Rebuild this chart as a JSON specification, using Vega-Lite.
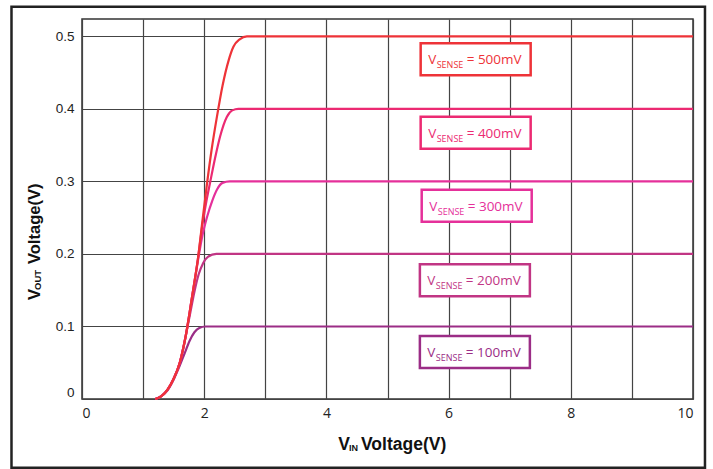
{
  "$schema": "https://vega.github.io/schema/vega-lite/v6.json",
  "width": 611,
  "height": 380,
  "autosize": {"type": "none"},
  "padding": {"left": 82, "top": 19, "right": 20, "bottom": 70},
  "background": "white",
  "config": {
    "view": {"stroke": "#333", "strokeWidth": 1.5},
    "axis": {"gridColor": "#444", "gridWidth": 1.2, "gridOpacity": 1, "ticks": false, "domain": false}
  },
  "datasets": {
    "curves": [
      {"vs": "100mV", "x": 1.2, "y": 0}, {"vs": "100mV", "x": 1.3, "y": 0.004}, {"vs": "100mV", "x": 1.4, "y": 0.012}, {"vs": "100mV", "x": 1.5, "y": 0.027}, {"vs": "100mV", "x": 1.6, "y": 0.046}, {"vs": "100mV", "x": 1.68, "y": 0.063}, {"vs": "100mV", "x": 1.76, "y": 0.08}, {"vs": "100mV", "x": 1.84, "y": 0.092}, {"vs": "100mV", "x": 1.92, "y": 0.098}, {"vs": "100mV", "x": 2.02, "y": 0.1}, {"vs": "100mV", "x": 10, "y": 0.1},
      {"vs": "200mV", "x": 1.2, "y": 0}, {"vs": "200mV", "x": 1.3, "y": 0.004}, {"vs": "200mV", "x": 1.4, "y": 0.013}, {"vs": "200mV", "x": 1.5, "y": 0.028}, {"vs": "200mV", "x": 1.6, "y": 0.05}, {"vs": "200mV", "x": 1.7, "y": 0.088}, {"vs": "200mV", "x": 1.77, "y": 0.118}, {"vs": "200mV", "x": 1.84, "y": 0.148}, {"vs": "200mV", "x": 1.91, "y": 0.172}, {"vs": "200mV", "x": 1.98, "y": 0.187}, {"vs": "200mV", "x": 2.06, "y": 0.196}, {"vs": "200mV", "x": 2.2, "y": 0.2}, {"vs": "200mV", "x": 10, "y": 0.2},
      {"vs": "300mV", "x": 1.2, "y": 0}, {"vs": "300mV", "x": 1.3, "y": 0.004}, {"vs": "300mV", "x": 1.4, "y": 0.013}, {"vs": "300mV", "x": 1.5, "y": 0.028}, {"vs": "300mV", "x": 1.6, "y": 0.05}, {"vs": "300mV", "x": 1.7, "y": 0.088}, {"vs": "300mV", "x": 1.8, "y": 0.14}, {"vs": "300mV", "x": 1.9, "y": 0.192}, {"vs": "300mV", "x": 1.97, "y": 0.225}, {"vs": "300mV", "x": 2.05, "y": 0.252}, {"vs": "300mV", "x": 2.13, "y": 0.273}, {"vs": "300mV", "x": 2.21, "y": 0.289}, {"vs": "300mV", "x": 2.3, "y": 0.298}, {"vs": "300mV", "x": 2.42, "y": 0.3}, {"vs": "300mV", "x": 10, "y": 0.3},
      {"vs": "400mV", "x": 1.2, "y": 0}, {"vs": "400mV", "x": 1.3, "y": 0.004}, {"vs": "400mV", "x": 1.4, "y": 0.013}, {"vs": "400mV", "x": 1.5, "y": 0.028}, {"vs": "400mV", "x": 1.6, "y": 0.05}, {"vs": "400mV", "x": 1.7, "y": 0.088}, {"vs": "400mV", "x": 1.8, "y": 0.14}, {"vs": "400mV", "x": 1.9, "y": 0.195}, {"vs": "400mV", "x": 1.97, "y": 0.24}, {"vs": "400mV", "x": 2.03, "y": 0.27}, {"vs": "400mV", "x": 2.1, "y": 0.3}, {"vs": "400mV", "x": 2.18, "y": 0.333}, {"vs": "400mV", "x": 2.26, "y": 0.362}, {"vs": "400mV", "x": 2.37, "y": 0.389}, {"vs": "400mV", "x": 2.46, "y": 0.398}, {"vs": "400mV", "x": 2.56, "y": 0.4}, {"vs": "400mV", "x": 10, "y": 0.4},
      {"vs": "500mV", "x": 1.2, "y": 0}, {"vs": "500mV", "x": 1.3, "y": 0.004}, {"vs": "500mV", "x": 1.4, "y": 0.013}, {"vs": "500mV", "x": 1.5, "y": 0.028}, {"vs": "500mV", "x": 1.6, "y": 0.05}, {"vs": "500mV", "x": 1.7, "y": 0.088}, {"vs": "500mV", "x": 1.8, "y": 0.14}, {"vs": "500mV", "x": 1.9, "y": 0.195}, {"vs": "500mV", "x": 1.97, "y": 0.245}, {"vs": "500mV", "x": 2.04, "y": 0.293}, {"vs": "500mV", "x": 2.12, "y": 0.343}, {"vs": "500mV", "x": 2.21, "y": 0.39}, {"vs": "500mV", "x": 2.3, "y": 0.432}, {"vs": "500mV", "x": 2.4, "y": 0.467}, {"vs": "500mV", "x": 2.48, "y": 0.486}, {"vs": "500mV", "x": 2.58, "y": 0.496}, {"vs": "500mV", "x": 2.7, "y": 0.5}, {"vs": "500mV", "x": 10, "y": 0.5}
    ],
    "labels": [
      {"vs": "500mV", "x": 6.443, "y": 0.4686, "txt": "= 500mV"},
      {"vs": "400mV", "x": 6.443, "y": 0.3671, "txt": "= 400mV"},
      {"vs": "300mV", "x": 6.46, "y": 0.2664, "txt": "= 300mV"},
      {"vs": "200mV", "x": 6.43, "y": 0.1638, "txt": "= 200mV"},
      {"vs": "100mV", "x": 6.43, "y": 0.0648, "txt": "= 100mV"}
    ]
  },
  "layer": [
    {
      "data": {"name": "curves"},
      "mark": {"type": "line", "strokeWidth": 2.2, "interpolate": "monotone"},
      "encoding": {
        "x": {"field": "x", "type": "quantitative", "title": null, "scale": {"domain": [0, 10], "nice": false},
          "axis": {"values": [0, 1, 2, 3, 4, 5, 6, 7, 8, 9, 10], "labelExpr": "datum.value % 2 == 0 ? format(datum.value, 'd') : ''", "labelFlush": true, "labelFont": "Open Sans", "labelFontSize": 14, "labelColor": "#222", "labelPadding": 7}},
        "y": {"field": "y", "type": "quantitative", "title": null, "scale": {"domain": [0, 0.524], "nice": false},
          "axis": {"values": [0, 0.05, 0.1, 0.15, 0.2, 0.25, 0.3, 0.35, 0.4, 0.45, 0.5], "labelExpr": "round(datum.value*20) % 2 == 1 ? '' : (datum.value == 0 ? '0' : format(datum.value, '.1f'))", "labelFlush": true, "labelFont": "Liberation Sans", "labelFontSize": 13.5, "labelColor": "#222", "labelPadding": 8}},
        "color": {"field": "vs", "type": "nominal", "legend": null,
          "scale": {"domain": ["500mV", "400mV", "300mV", "200mV", "100mV"], "range": ["#ee3338", "#ec2a72", "#e5309a", "#c13584", "#9b2d86"]}},
        "order": {"field": "x", "type": "quantitative"}
      }
    },
    {
      "data": {"name": "labels"},
      "mark": {"type": "point", "shape": "M-1,-0.29L1,-0.29L1,0.29L-1,0.29Z", "size": 12100, "filled": false, "fill": "white", "fillOpacity": 1, "opacity": 1, "strokeWidth": 2.5},
      "encoding": {
        "x": {"field": "x", "type": "quantitative", "title": null, "scale": {"domain": [0, 10], "nice": false}},
        "y": {"field": "y", "type": "quantitative", "title": null, "scale": {"domain": [0, 0.524], "nice": false}},
        "stroke": {"field": "vs", "type": "nominal", "legend": null,
          "scale": {"domain": ["500mV", "400mV", "300mV", "200mV", "100mV"], "range": ["#ee3338", "#ec2a72", "#e5309a", "#c13584", "#9b2d86"]}}
      }
    },
    {
      "data": {"name": "labels"},
      "mark": {"type": "text", "text": "V", "align": "left", "baseline": "alphabetic", "dx": -47.5, "dy": 5, "font": "Open Sans", "fontSize": 13.5},
      "encoding": {
        "x": {"field": "x", "type": "quantitative", "title": null, "scale": {"domain": [0, 10], "nice": false}},
        "y": {"field": "y", "type": "quantitative", "title": null, "scale": {"domain": [0, 0.524], "nice": false}},
        "color": {"field": "vs", "type": "nominal", "legend": null,
          "scale": {"domain": ["500mV", "400mV", "300mV", "200mV", "100mV"], "range": ["#ee3338", "#ec2a72", "#e5309a", "#c13584", "#9b2d86"]}}
      }
    },
    {
      "data": {"name": "labels"},
      "mark": {"type": "text", "text": "SENSE", "align": "left", "baseline": "alphabetic", "dx": -39, "dy": 9, "font": "Open Sans", "fontSize": 9},
      "encoding": {
        "x": {"field": "x", "type": "quantitative", "title": null, "scale": {"domain": [0, 10], "nice": false}},
        "y": {"field": "y", "type": "quantitative", "title": null, "scale": {"domain": [0, 0.524], "nice": false}},
        "color": {"field": "vs", "type": "nominal", "legend": null,
          "scale": {"domain": ["500mV", "400mV", "300mV", "200mV", "100mV"], "range": ["#ee3338", "#ec2a72", "#e5309a", "#c13584", "#9b2d86"]}}
      }
    },
    {
      "data": {"name": "labels"},
      "mark": {"type": "text", "align": "left", "baseline": "alphabetic", "dx": -9, "dy": 5, "font": "Open Sans", "fontSize": 13.5},
      "encoding": {
        "x": {"field": "x", "type": "quantitative", "title": null, "scale": {"domain": [0, 10], "nice": false}},
        "y": {"field": "y", "type": "quantitative", "title": null, "scale": {"domain": [0, 0.524], "nice": false}},
        "text": {"field": "txt"},
        "color": {"field": "vs", "type": "nominal", "legend": null,
          "scale": {"domain": ["500mV", "400mV", "300mV", "200mV", "100mV"], "range": ["#ee3338", "#ec2a72", "#e5309a", "#c13584", "#9b2d86"]}}
      }
    },
    {
      "data": {"values": [{}]},
      "mark": {"type": "rect", "filled": false, "stroke": "#222", "strokeWidth": 2.5},
      "encoding": {
        "x": {"datum": -1.154, "type": "quantitative", "scale": {"domain": [0, 10], "nice": false}},
        "x2": {"datum": 10.196},
        "y": {"datum": 0.541, "type": "quantitative", "scale": {"domain": [0, 0.524], "nice": false}},
        "y2": {"datum": -0.0947}
      }
    },
    {
      "data": {"values": [{}]},
      "mark": {"type": "text", "text": "V", "align": "right", "baseline": "alphabetic", "font": "Liberation Sans", "fontWeight": "bold", "fontSize": 17.5, "color": "#111"},
      "encoding": {
        "x": {"datum": 4.386, "type": "quantitative", "scale": {"domain": [0, 10], "nice": false}},
        "y": {"datum": -0.0703, "type": "quantitative", "scale": {"domain": [0, 0.524], "nice": false}}
      }
    },
    {
      "data": {"values": [{}]},
      "mark": {"type": "text", "text": "IN", "align": "left", "baseline": "alphabetic", "dx": -1, "dy": 1, "font": "Liberation Sans", "fontWeight": "bold", "fontSize": 9, "color": "#111"},
      "encoding": {
        "x": {"datum": 4.386, "type": "quantitative", "scale": {"domain": [0, 10], "nice": false}},
        "y": {"datum": -0.0703, "type": "quantitative", "scale": {"domain": [0, 0.524], "nice": false}}
      }
    },
    {
      "data": {"values": [{}]},
      "mark": {"type": "text", "text": "Voltage(V)", "align": "left", "baseline": "alphabetic", "dx": 11, "font": "Liberation Sans", "fontWeight": "bold", "fontSize": 17.5, "color": "#111"},
      "encoding": {
        "x": {"datum": 4.386, "type": "quantitative", "scale": {"domain": [0, 10], "nice": false}},
        "y": {"datum": -0.0703, "type": "quantitative", "scale": {"domain": [0, 0.524], "nice": false}}
      }
    },
    {
      "data": {"values": [{}]},
      "mark": {"type": "text", "text": "V", "angle": 270, "align": "right", "baseline": "alphabetic", "font": "Liberation Sans", "fontWeight": "bold", "fontSize": 16.5, "color": "#111"},
      "encoding": {
        "x": {"datum": -0.687, "type": "quantitative", "scale": {"domain": [0, 10], "nice": false}},
        "y": {"datum": 0.1517, "type": "quantitative", "scale": {"domain": [0, 0.524], "nice": false}}
      }
    },
    {
      "data": {"values": [{}]},
      "mark": {"type": "text", "text": "OUT", "angle": 270, "align": "left", "baseline": "alphabetic", "dx": -1, "dy": 1, "font": "Liberation Sans", "fontWeight": "bold", "fontSize": 9.5, "color": "#111"},
      "encoding": {
        "x": {"datum": -0.687, "type": "quantitative", "scale": {"domain": [0, 10], "nice": false}},
        "y": {"datum": 0.1517, "type": "quantitative", "scale": {"domain": [0, 0.524], "nice": false}}
      }
    },
    {
      "data": {"values": [{}]},
      "mark": {"type": "text", "text": "Voltage(V)", "angle": 270, "align": "left", "baseline": "alphabetic", "dx": 25, "font": "Liberation Sans", "fontWeight": "bold", "fontSize": 16.5, "color": "#111"},
      "encoding": {
        "x": {"datum": -0.687, "type": "quantitative", "scale": {"domain": [0, 10], "nice": false}},
        "y": {"datum": 0.1517, "type": "quantitative", "scale": {"domain": [0, 0.524], "nice": false}}
      }
    }
  ]
}
